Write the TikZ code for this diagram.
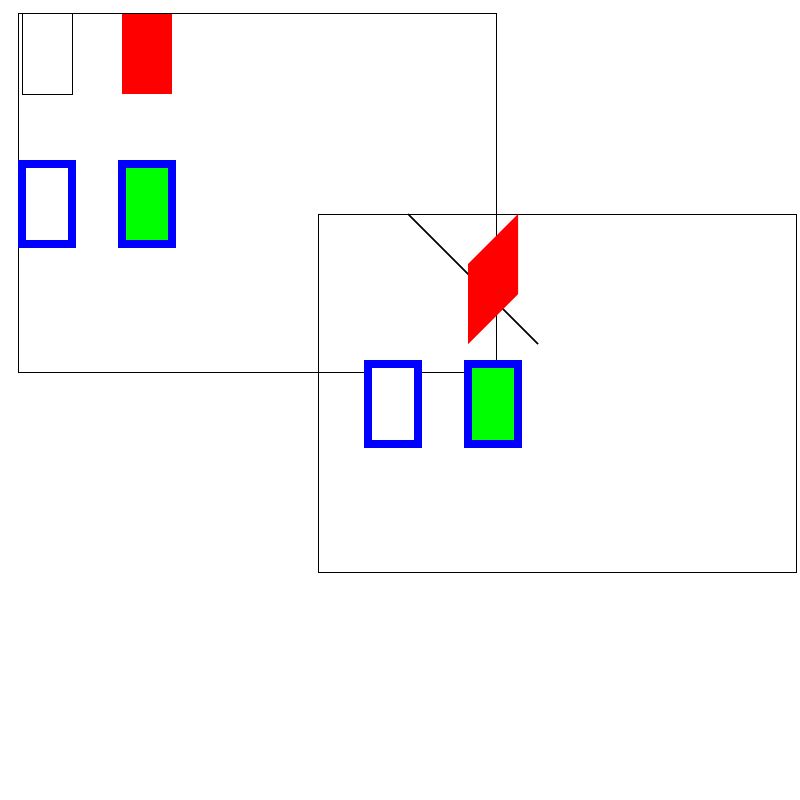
\documentclass[tikz,border=0pt]{standalone}
\usetikzlibrary{positioning}
\tikzset{
		frame/.style={draw=black, line width=1pt},
		bluebox/.style={draw=blue, line width=8pt},
		slant/.style={draw=black, line width=1.5pt}
	}
\begin{document}
\begin{tikzpicture}[x=1pt, y=-1pt] % (one unit = one pixel of the reference, y grows downwards)
		\useasboundingbox (0,0) rectangle (800,800);
		% the two frames
		\draw[frame] (18,14) rectangle (496,372);
		\draw[frame] (318,214) rectangle (796,572);
		\draw[slant] (408,214) -- (538,344);
		% first frame
		\draw[frame] (22,14) rectangle (72,94);
		\fill[red] (122,14) rectangle (172,94);
		\foreach \x/\f in {22/white,122/green} {
			\draw[bluebox, fill=\f] (\x,164) rectangle ++(50,80);
		}
		% second frame
		\fill[red] (468,264) -- (518,214) -- (518,294) -- (468,344) -- cycle;
		\foreach \x/\f in {368/white,468/green} {
			\draw[bluebox, fill=\f] (\x,364) rectangle ++(50,80);
		}
	\end{tikzpicture}
\end{document}
